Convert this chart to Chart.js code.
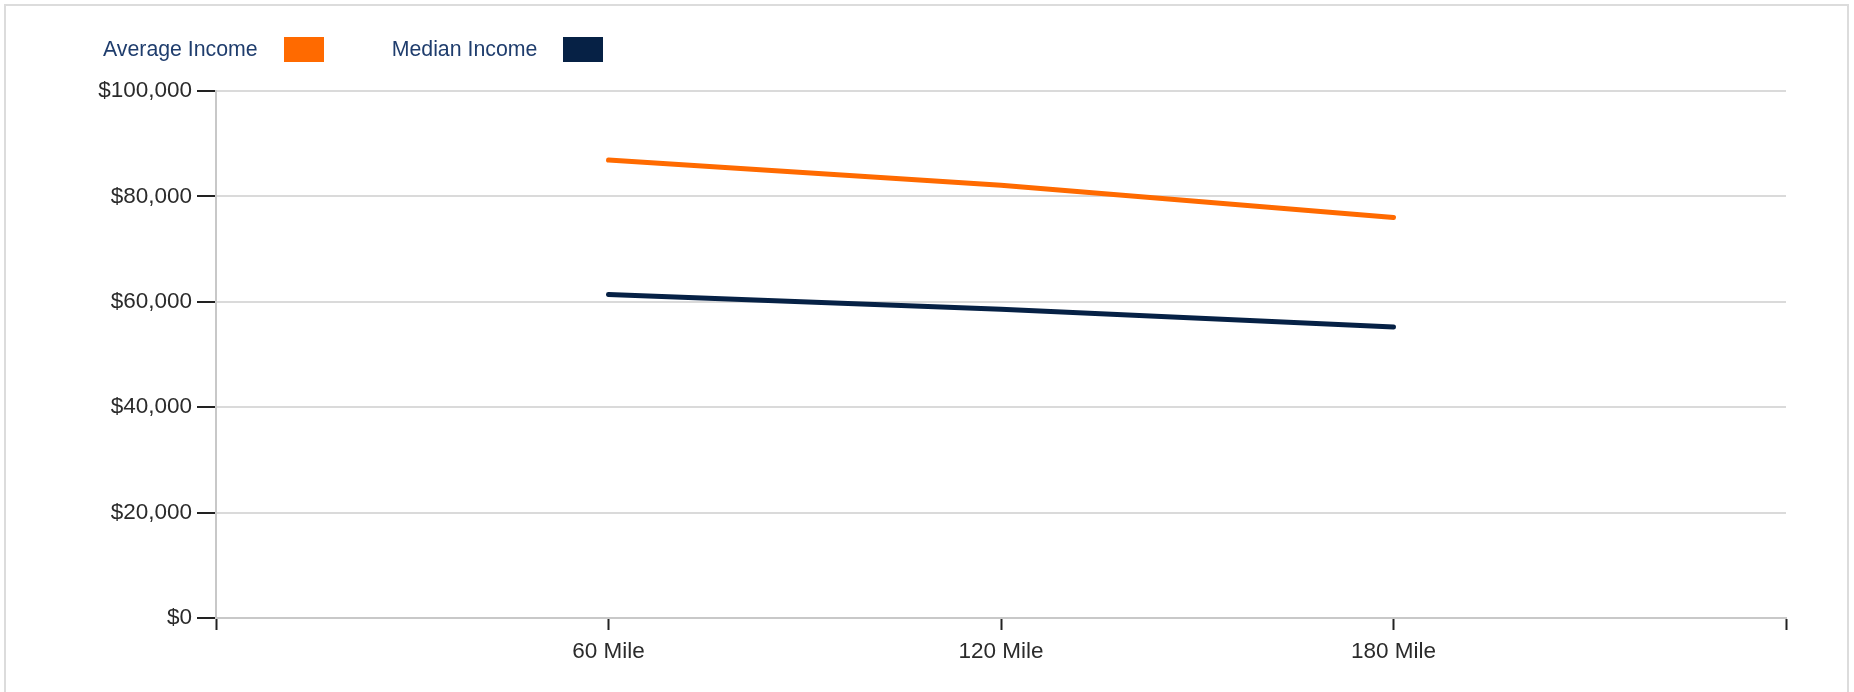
<!DOCTYPE html>
<html>
<head>
<meta charset="utf-8">
<script src="https://cdn.jsdelivr.net/npm/chart.js@4"></script>
<style>
    html, body { margin: 0; padding: 0; background: #fff; }
    #wrap { position: relative; width: 1854px; height: 692px; overflow: hidden; }
    #frame { position: absolute; left: 4px; top: 4px; width: 1845px; height: 700px; border: 2px solid #dcdcdc; box-sizing: border-box; }
    #chart-box { position: absolute; left: 0; top: 0; width: 1854px; height: 692px; }
    #legend { position: absolute; left: 103px; top: 37px; display: flex; align-items: center;
              font-family: 'Liberation Sans', Arial, sans-serif; font-size: 21.3px; color: #1f3d6d; }
    #legend .item { display: flex; align-items: center; margin-right: 68px; }
    #legend .box { width: 40px; height: 25px; margin-left: 26px; }
</style>
</head>
<body>
<div id="wrap">
    <div id="frame"></div>
    <div id="chart-box"><canvas id="income-chart"></canvas></div>
    <div id="legend"></div>
</div>
<script>
// 数据
const categories = ['60 Mile', '120 Mile', '180 Mile'];
const averageIncome = [86900, 82100, 76000];
const medianIncome = [61400, 58600, 55200];
const seriesNames = ['Average Income', 'Median Income'];
const seriesColors = ['#ff6a00', '#062145'];
const yTicks = [0, 20000, 40000, 60000, 80000, 100000];

document.addEventListener('DOMContentLoaded', () => {
    const ctx = document.getElementById('income-chart').getContext('2d');

    // 两端留空的类别，使数据点落在 1/4、2/4、3/4 处
    const labels = [''].concat(categories, ['']);
    const pad = arr => [null].concat(arr, [null]);

    const data = {
        labels: labels,
        datasets: [
            {
                label: seriesNames[0],
                data: pad(averageIncome),
                borderColor: seriesColors[0],
                backgroundColor: seriesColors[0],
                borderWidth: 5,
                borderCapStyle: 'round',
                pointRadius: 0,
                tension: 0
            },
            {
                label: seriesNames[1],
                data: pad(medianIncome),
                borderColor: seriesColors[1],
                backgroundColor: seriesColors[1],
                borderWidth: 5,
                borderCapStyle: 'round',
                pointRadius: 0,
                tension: 0
            }
        ]
    };

    const tickFont = { family: "'Liberation Sans', Arial, sans-serif", size: 22.5 };

    const options = {
        responsive: true,
        maintainAspectRatio: false,
        animation: false,
        layout: { padding: { left: 0, top: 91, right: 68, bottom: 0 } },
        plugins: {
            legend: { display: false },
            tooltip: { enabled: false }
        },
        scales: {
            x: {
                offset: false,
                afterFit: s => { s.height = 74; },
                grid: {
                    drawOnChartArea: false,
                    drawTicks: true,
                    tickLength: 12,
                    tickColor: '#222',
                    tickWidth: 2
                },
                border: { display: true, color: '#c8c8c8', width: 2 },
                ticks: {
                    autoSkip: false,
                    maxRotation: 0,
                    color: '#2b2b2b',
                    padding: 8,
                    font: tickFont
                }
            },
            y: {
                min: yTicks[0],
                max: yTicks[yTicks.length - 1],
                afterFit: s => { s.width = 216; },
                afterBuildTicks: s => { s.ticks = yTicks.map(v => ({ value: v })); },
                grid: {
                    color: '#dadada',
                    lineWidth: 2,
                    drawTicks: true,
                    tickLength: 19,
                    tickColor: '#222',
                    tickWidth: 2
                },
                border: { display: true, color: '#c8c8c8', width: 2 },
                ticks: {
                    color: '#2b2b2b',
                    padding: 5,
                    font: tickFont,
                    callback: v => '$' + v.toLocaleString('en-US')
                }
            }
        }
    };

    new Chart(ctx, { type: 'line', data: data, options: options });

    // 图例：文字在前，色块在后
    const legend = document.getElementById('legend');
    seriesNames.forEach((name, i) => {
        const item = document.createElement('div');
        item.className = 'item';
        const text = document.createElement('span');
        text.textContent = name;
        const box = document.createElement('span');
        box.className = 'box';
        box.style.background = seriesColors[i];
        item.appendChild(text);
        item.appendChild(box);
        legend.appendChild(item);
    });
});
</script>
</body>
</html>
